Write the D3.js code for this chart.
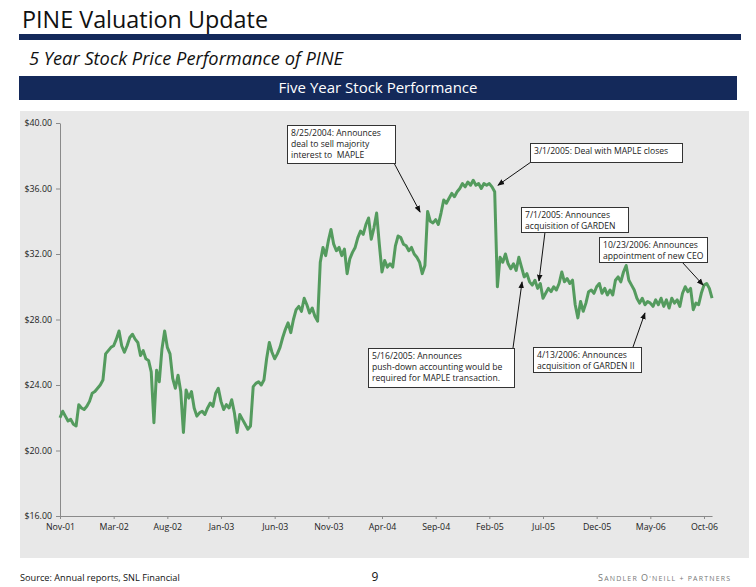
<!DOCTYPE html>
<html><head><meta charset="utf-8">
<script src="https://cdn.jsdelivr.net/npm/d3@7/dist/d3.min.js"></script>
<style>body{margin:0;background:#fff}svg{display:block}text{white-space:pre}</style>
</head><body>
<svg id="c" width="756" height="587"></svg>
<script>
// ---------- DATA ----------
const xLabels = ["Nov-01","Mar-02","Aug-02","Jan-03","Jun-03","Nov-03","Apr-04","Sep-04","Feb-05","Jul-05","Dec-05","May-06","Oct-06"];
const yTicks = [16, 20, 24, 28, 32, 36, 40];
// closing price, sampled at equal steps (20 steps between axis labels)
const prices = [
 22.0,22.4,22.1,21.8,21.9,21.6,21.5,22.8,22.6,22.5,22.7,23.0,23.5,23.6,23.8,24.0,24.3,25.9,26.1,26.3,
 26.4,26.8,27.3,26.4,26.0,26.4,26.9,27.1,26.8,26.6,25.8,26.1,25.6,25.5,24.8,21.7,24.9,24.2,26.2,27.3,
 26.3,25.9,24.4,23.8,24.6,23.6,21.1,23.7,23.2,23.6,22.6,22.1,22.3,22.4,22.2,22.6,22.9,22.7,23.5,23.8,
 23.0,22.5,22.8,22.6,23.1,22.3,21.1,22.2,21.9,21.6,21.3,21.5,23.9,24.1,24.2,24.0,24.3,25.6,26.6,26.0,
 25.6,25.9,26.3,26.9,27.4,27.8,27.2,28.0,28.6,28.8,28.5,29.3,28.9,28.4,28.7,28.2,27.9,31.5,32.4,31.9,
 32.8,33.5,32.6,32.2,32.4,31.9,32.3,30.8,31.7,32.1,32.4,33.0,33.4,33.2,33.8,34.2,32.9,33.6,34.5,32.6,
 30.9,31.6,31.2,31.4,31.2,32.5,33.1,33.0,32.6,32.5,32.2,32.4,32.0,31.8,31.5,30.8,31.3,34.6,34.0,33.9,
 34.1,33.8,34.5,35.3,35.1,35.4,35.7,35.5,35.8,36.0,36.3,36.1,36.4,36.2,36.5,36.2,36.3,36.0,36.3,36.2,
 36.3,36.1,35.8,30.0,31.8,31.5,32.0,31.4,31.1,31.4,31.0,31.8,31.2,30.6,30.8,30.3,30.1,30.4,29.9,30.2,
 29.3,29.6,29.9,29.7,30.0,29.8,30.2,30.9,30.3,30.5,30.2,30.4,28.9,28.1,29.1,28.5,29.0,29.7,29.8,29.6,
 30.0,30.2,29.6,29.9,29.5,29.8,29.5,30.4,30.6,30.3,30.9,31.3,30.4,30.1,29.8,29.3,29.0,29.3,28.9,29.1,
 29.0,28.8,29.2,28.9,29.3,28.8,29.2,28.7,29.3,29.0,29.2,28.8,29.6,30.0,29.7,29.9,28.6,29.0,28.9,29.6,
 30.1,30.2,29.9,29.3
];
const stepsPerLabel = 20;
const annotations = [
 {lines:["8/25/2004: Announces","deal to sell majority","interest to  MAPLE"], at:[134.2,34.56]},
 {lines:["3/1/2005: Deal with MAPLE closes"], at:[163.2,36.2]},
 {lines:["7/1/2005: Announces","acquisition of GARDEN"], at:[178.5,30.35]},
 {lines:["10/23/2006: Announces","appointment of new CEO"], at:[239.7,30.1]},
 {lines:["5/16/2005: Announces","push-down accounting would be","required for MAPLE transaction."], at:[172.2,30.3]},
 {lines:["4/13/2006: Announces","acquisition of GARDEN II"], at:[218.0,28.4]}
];
// box layout (x, y, w, h) and arrow start point
const boxLayout = [
 {x:287,y:125,w:108,h:38,sx:394,sy:163},
 {x:530,y:143,w:152,h:19,sx:531,sy:162},
 {x:521,y:207,w:107,h:25,sx:545,sy:232},
 {x:599,y:237,w:108,h:25,sx:682,sy:262},
 {x:368,y:348,w:146,h:39,sx:513,sy:348},
 {x:533,y:347,w:108,h:25,sx:633,sy:347}
];

// ---------- DRAW ----------
const NAVY = "#14295a", GREEN = "#549b5e";
const FONT = "'Open Sans', 'DejaVu Sans', sans-serif";
const svg = d3.select("#c");

function fitText(sel, target){
  const w = sel.node().getComputedTextLength();
  const fs = parseFloat(sel.attr("font-size"));
  sel.attr("font-size", (fs*target/w).toFixed(2));
}

// header
fitText(svg.append("text").attr("x",22).attr("y",28).attr("font-family",FONT).attr("font-size",23)
  .attr("fill","#111").text("PINE Valuation Update"), 246);
svg.append("rect").attr("x",19).attr("y",34).attr("width",722).attr("height",6).attr("fill",NAVY);
fitText(svg.append("text").attr("x",29).attr("y",65).attr("font-family",FONT).attr("font-style","italic")
  .attr("font-size",17).attr("fill","#111").text("5 Year Stock Price Performance of PINE"), 314);
svg.append("rect").attr("x",19).attr("y",76).attr("width",718).attr("height",24).attr("fill",NAVY);
fitText(svg.append("text").attr("x",378).attr("y",93).attr("text-anchor","middle").attr("font-family",FONT)
  .attr("font-size",15).attr("fill","#fff").text("Five Year Stock Performance"), 199);

// chart panel
svg.append("rect").attr("x",20).attr("y",111).attr("width",729).attr("height",447).attr("fill","#e8e8e8");

const x = d3.scaleLinear().domain([0, prices.length-1]).range([60, 60 + (prices.length-1)*2.6833]);
const y = d3.scaleLinear().domain([16, 40]).range([516, 123]);

const yAxis = svg.append("g").attr("transform","translate(60,0)")
  .call(d3.axisLeft(y).tickValues(yTicks).tickFormat(d => "$" + d.toFixed(2)).tickSize(4).tickSizeOuter(0).tickPadding(4));
const xAxis = svg.append("g").attr("transform","translate(0,516)")
  .call(d3.axisBottom(x).tickValues(xLabels.map((d,i)=>i*stepsPerLabel)).tickFormat((d,i)=>xLabels[i])
    .tickSize(3).tickSizeOuter(0).tickPadding(5));
[yAxis, xAxis].forEach(a => {
  a.select(".domain").attr("stroke","#8a8a8a");
  a.selectAll(".tick line").attr("stroke","#8a8a8a");
  a.selectAll("text").attr("font-family",FONT).attr("font-size",8.8).attr("fill","#222");
});

// price line
svg.append("path").datum(prices)
  .attr("fill","none").attr("stroke",GREEN).attr("stroke-width",3).attr("stroke-linejoin","round")
  .attr("d", d3.line().x((d,i)=>x(i)).y(d=>y(d)));

// arrows & annotation boxes
svg.append("defs").append("marker").attr("id","ah").attr("viewBox","0 0 10 10")
  .attr("refX",9).attr("refY",5).attr("markerWidth",7).attr("markerHeight",7).attr("orient","auto")
  .attr("markerUnits","userSpaceOnUse")
  .append("path").attr("d","M0,1 L10,5 L0,9 Z").attr("fill","#111");

annotations.forEach((a,k) => {
  const b = boxLayout[k];
  svg.append("line").attr("x1",b.sx).attr("y1",b.sy).attr("x2",x(a.at[0])).attr("y2",y(a.at[1]))
    .attr("stroke","#111").attr("stroke-width",1).attr("marker-end","url(#ah)");
  svg.append("rect").attr("x",b.x+0.5).attr("y",b.y+0.5).attr("width",b.w).attr("height",b.h)
    .attr("fill","#fff").attr("stroke","#333").attr("stroke-width",1);
  a.lines.forEach((t,j) => {
    svg.append("text").attr("x",b.x+4).attr("y",b.y+10.5+j*11).attr("font-family",FONT)
      .attr("font-size",8.6).attr("fill","#222").text(t);
  });
});

// footer
svg.append("text").attr("x",20).attr("y",581).attr("font-family",FONT).attr("font-size",9.2).attr("fill","#111")
  .text("Source: Annual reports, SNL Financial");
svg.append("text").attr("x",375).attr("y",581).attr("text-anchor","middle").attr("font-family",FONT).attr("font-size",12).attr("fill","#111").text("9");
const logo = svg.append("text").attr("x",598).attr("y",581).attr("font-family",FONT).attr("fill","#777")
  .attr("font-size",7).attr("letter-spacing",1.2);
[["S",9],["ANDLER ",7],["O",9],["'NEILL",7],[" + ",7],["PARTNERS",7]].forEach(p =>
  logo.append("tspan").attr("font-size",p[1]).text(p[0]));
</script>
</body></html>
